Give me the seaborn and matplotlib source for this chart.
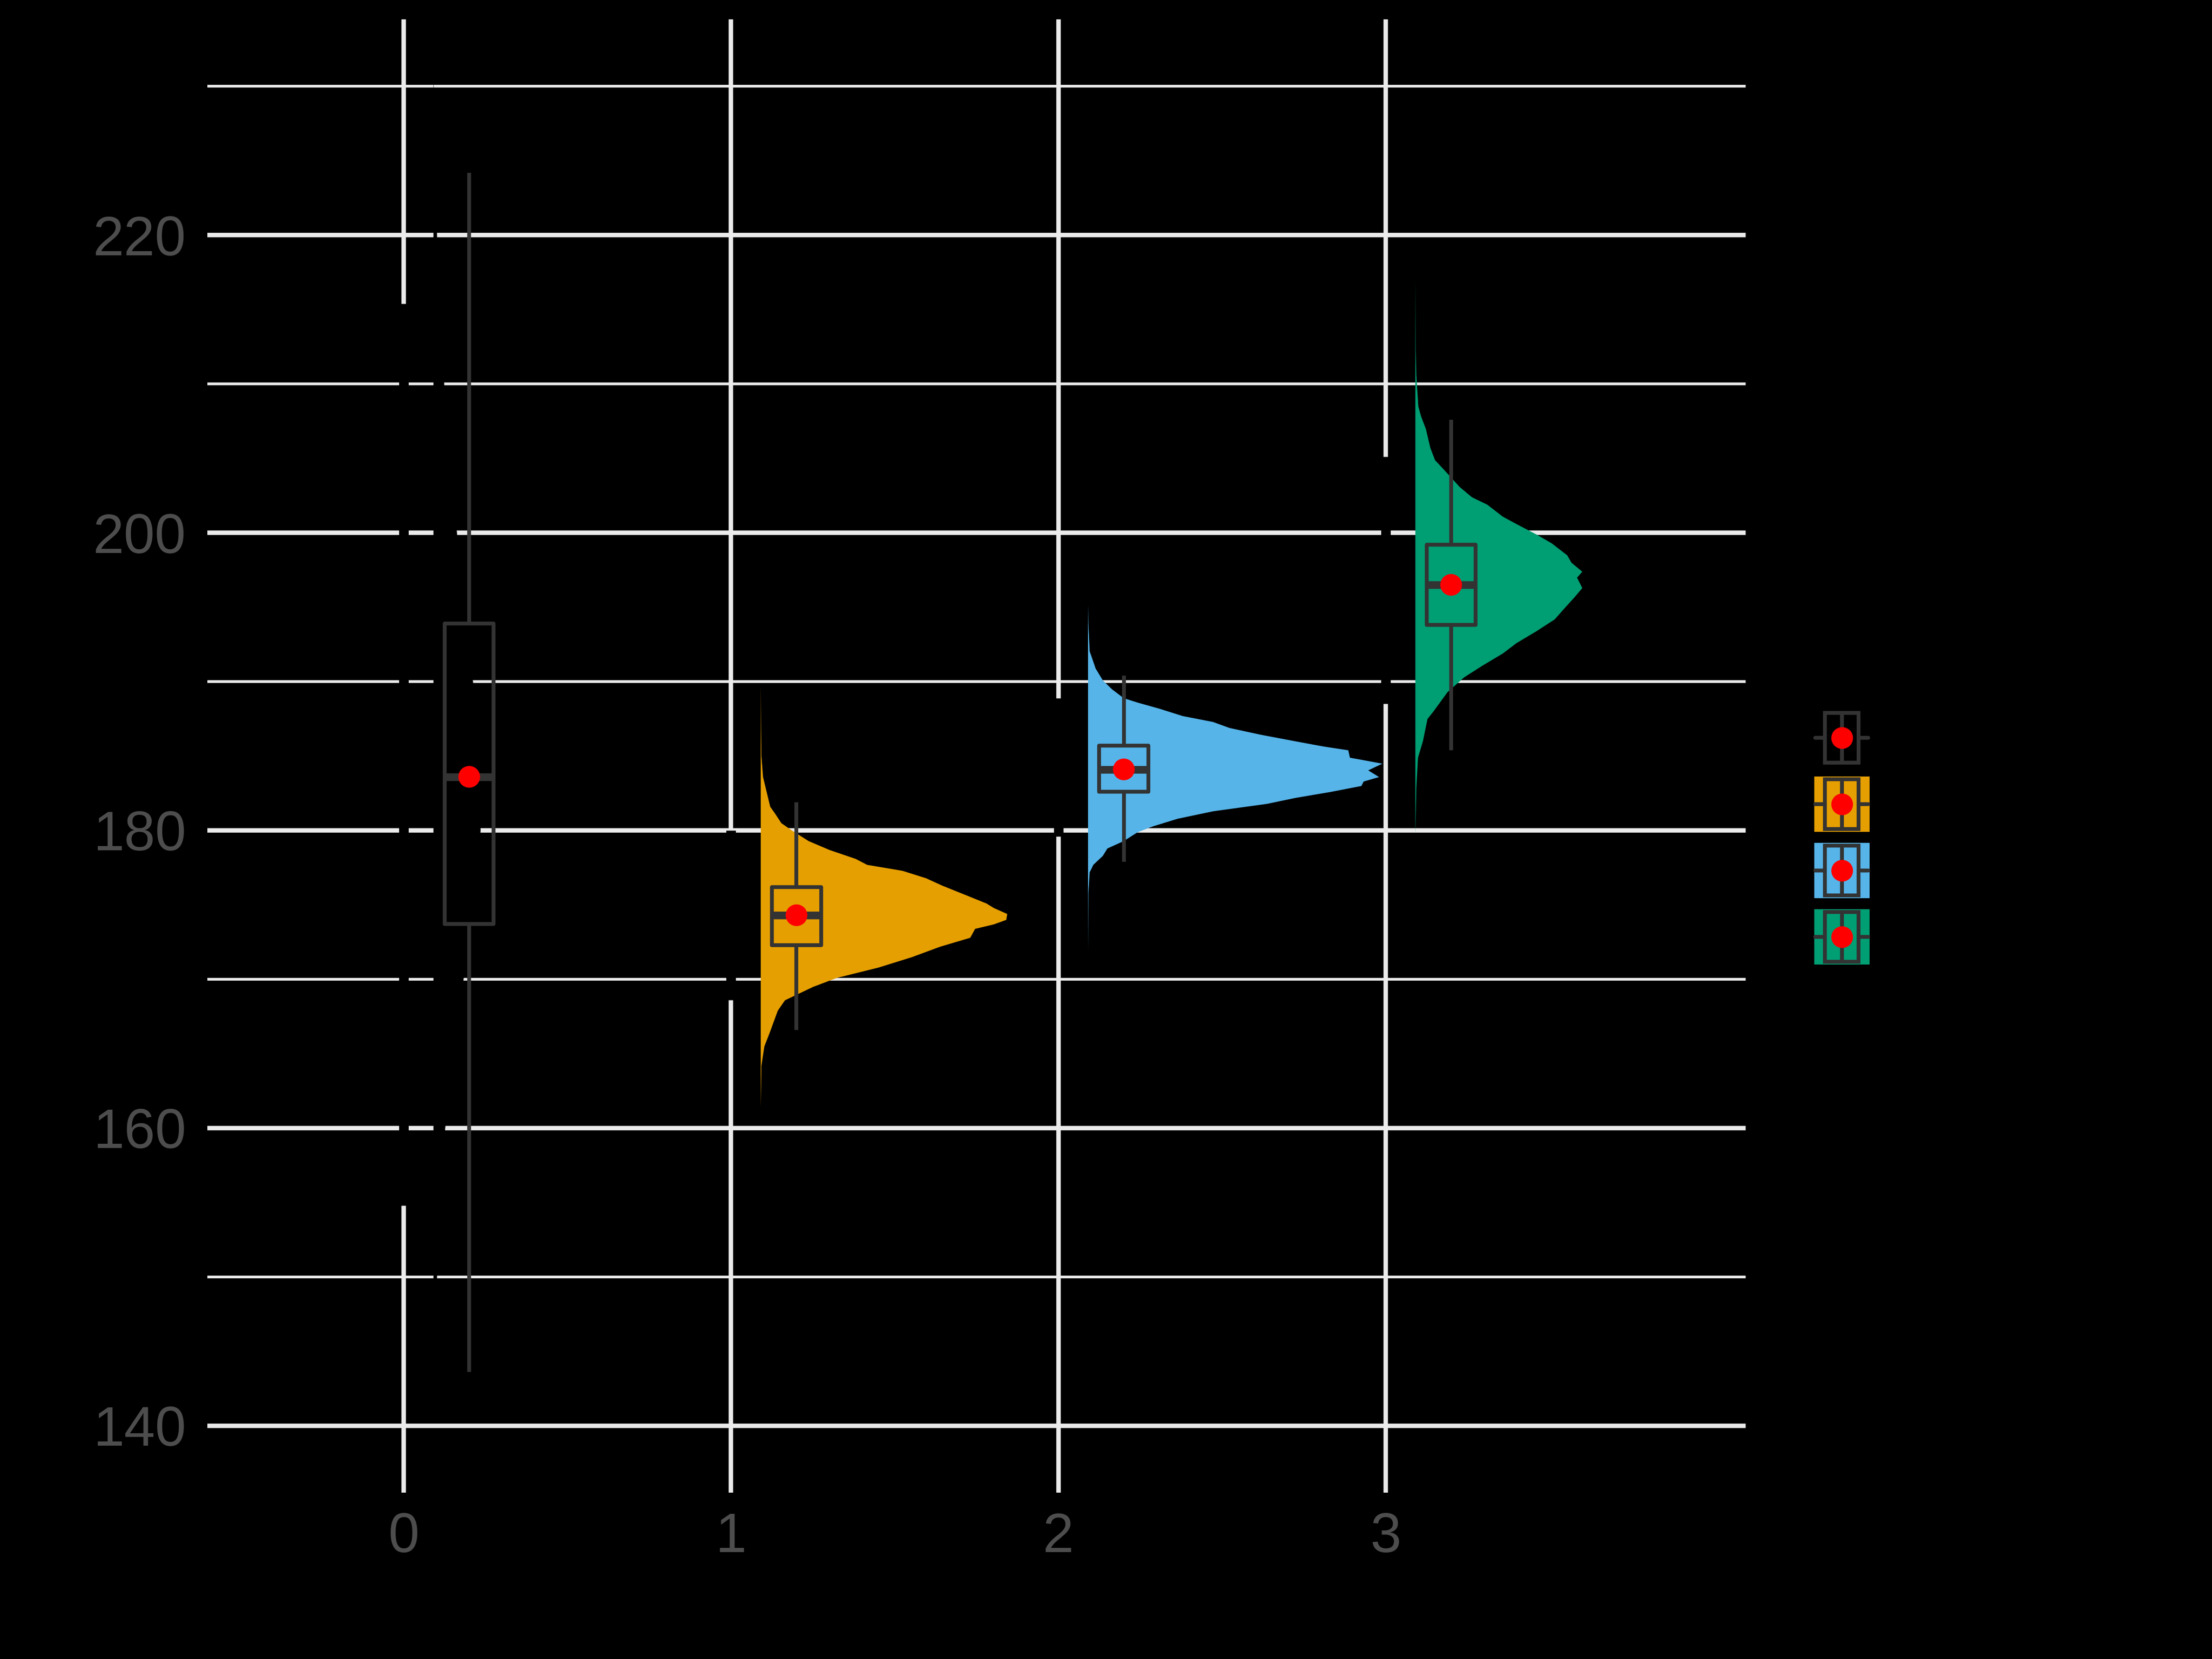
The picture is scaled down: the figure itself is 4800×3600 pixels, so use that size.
import numpy as np
import pandas as pd
import matplotlib
matplotlib.use("Agg")
import matplotlib.pyplot as plt
import seaborn as sns
from matplotlib.patches import Patch, Rectangle
from matplotlib.lines import Line2D
from matplotlib.legend_handler import HandlerBase

# groups and fills
groups = [0, 1, 2, 3]
fills = ["black", "#E69F00", "#56B4E9", "#009E73"]

# box statistics
box_lo = [143.6, 166.6, 177.9, 185.4]
box_q1 = [173.7, 172.3, 182.6, 193.8]
box_med = [183.6, 174.3, 184.1, 196.5]
box_q3 = [193.9, 176.2, 185.7, 199.2]
box_hi = [224.2, 181.9, 190.4, 207.6]
means = [183.6, 174.3, 184.1, 196.5]

# range covered by the (black) jittered points
pts_lo = [154.8, 168.6, 179.6, 188.5]
pts_hi = [215.4, 180.0, 188.9, 205.1]

# half violin outlines: y value and width
vio0_y = [142, 150, 155, 160, 165, 170, 175, 180, 185, 190, 195, 200, 205, 210, 215, 220, 225, 231]
vio0_w = [0, 0.011, 0.02, 0.036, 0.06, 0.092, 0.125, 0.144, 0.138, 0.121, 0.095, 0.072, 0.05, 0.033, 0.02, 0.011, 0.005, 0]

vio1_y = [161.4, 164.2, 165.5, 166.4, 167.9, 168.6, 169.5, 170.1, 170.8, 171.5, 172.2, 172.8, 173.4,
          173.7, 174.0, 174.4, 174.8, 175.1, 175.6, 176.3, 176.8, 177.3, 177.7, 178.1, 178.7, 179.3,
          180.0, 180.5, 181.2, 181.6, 183.6, 185.0, 186.8, 189.8]
vio1_w = [0, 0.002, 0.011, 0.027, 0.052, 0.074, 0.16, 0.232, 0.36, 0.462, 0.548, 0.64, 0.655,
          0.712, 0.75, 0.753, 0.712, 0.69, 0.634, 0.555, 0.505, 0.433, 0.325, 0.29, 0.21, 0.146,
          0.096, 0.063, 0.042, 0.029, 0.007, 0.002, 0.001, 0]

vio2_y = [171.9, 175.8, 177.2, 177.7, 178.3, 178.8, 179.3, 179.9, 180.3, 180.8, 181.3, 181.8, 182.2,
          182.6, 183.0, 183.3, 183.6, 184.05, 184.5, 184.7, 184.9, 185.4, 185.65, 186.0, 186.45,
          186.9, 187.3, 187.7, 188.2, 188.6, 188.9, 189.5, 190.1, 190.9, 192.05, 193.9, 195.2]
vio2_w = [0, 0.001, 0.005, 0.016, 0.045, 0.059, 0.109, 0.152, 0.2, 0.274, 0.382, 0.547, 0.634,
          0.741, 0.835, 0.842, 0.889, 0.856, 0.899, 0.85, 0.80, 0.795, 0.72, 0.634, 0.526,
          0.432, 0.382, 0.289, 0.217, 0.152, 0.109, 0.073, 0.045, 0.023, 0.005, 0.001, 0]

vio3_y = [179.7, 182.9, 184.9, 186.0, 187.5, 188.0, 189.3, 190.3, 191.1, 191.9, 192.6, 193.4, 194.2,
          194.9, 195.7, 196.3, 197.0, 197.4, 198.0, 198.5, 199.3, 199.9, 200.6, 201.1, 201.9,
          202.4, 203.1, 204.0, 204.9, 205.7, 207.0, 207.8, 208.5, 210.6, 212.4, 217.0]
vio3_w = [0, 0.003, 0.008, 0.023, 0.037, 0.055, 0.098, 0.149, 0.206, 0.267, 0.309, 0.37, 0.426,
          0.454, 0.487, 0.51, 0.494, 0.51, 0.477, 0.464, 0.417, 0.37, 0.309, 0.267, 0.22,
          0.173, 0.135, 0.098, 0.06, 0.046, 0.032, 0.018, 0.009, 0.003, 0.001, 0]

vio_y = [vio0_y, vio1_y, vio2_y, vio3_y]
vio_w = [vio0_w, vio1_w, vio2_w, vio3_w]

line_col = "#333333"
grid_col = "#EBEBEB"
text_col = "#4D4D4D"


class BoxKey(HandlerBase):
    """legend key: filled square with a sideways box and the mean dot"""
    def create_artists(self, legend, orig_handle, xdescent, ydescent,
                       width, height, fontsize, trans):
        x0, y0 = -xdescent, -ydescent
        fc = orig_handle.get_facecolor()
        bg = Rectangle((x0, y0), width, height, facecolor=fc, edgecolor="none", transform=trans)
        box = Rectangle((x0 + 0.196 * width, y0 + 0.05 * height), 0.608 * width, 0.9 * height,
                        facecolor="none", edgecolor=line_col, lw=2, transform=trans)
        med = Line2D([x0 + 0.5 * width] * 2, [y0 + 0.05 * height, y0 + 0.95 * height],
                     color=line_col, lw=2, transform=trans)
        wl = Line2D([x0 + 0.017 * width, x0 + 0.196 * width], [y0 + 0.5 * height] * 2,
                    color=line_col, lw=2, transform=trans)
        wr = Line2D([x0 + 0.804 * width, x0 + 0.978 * width], [y0 + 0.5 * height] * 2,
                    color=line_col, lw=2, transform=trans)
        dot = Line2D([x0 + 0.5 * width], [y0 + 0.5 * height], marker="o", ms=11.3,
                     color="red", mec="none", ls="none", transform=trans)
        return [bg, box, med, wl, wr, dot]


def main():
    sns.set_theme(style="dark", rc={"axes.facecolor": "black", "figure.facecolor": "black"})
    plt.rcParams["font.family"] = ["Liberation Sans", "DejaVu Sans"]

    fig = plt.figure(figsize=(16, 12), dpi=300)
    ax = fig.add_axes([0.09375, 0.10028, 0.78920 - 0.09375, 0.98833 - 0.10028])
    ax.set_facecolor("black")

    # black jittered points: only visible where they cut the grid
    ax.vlines(groups, pts_lo, pts_hi, color="black", lw=5, zorder=1.5)

    # half violins
    for g, y, w, c in zip(groups, vio_y, vio_w, fills):
        ax.fill_betweenx(y, g + 0.09, g + 0.09 + np.array(w), color=c, lw=0, zorder=2)

    # boxes
    pos = np.array(groups) + 0.2
    box_df = pd.DataFrame({
        "pos": np.repeat(pos, 5),
        "value": np.column_stack([box_lo, box_q1, box_med, box_q3, box_hi]).ravel(),
    })
    sns.boxplot(data=box_df, x="pos", y="value", native_scale=True, width=0.15,
                fill=False, color=line_col, linewidth=2, whis=(0, 100),
                showcaps=False, showfliers=False, medianprops={"linewidth": 4},
                ax=ax, zorder=3)

    # mean points
    sns.scatterplot(x=pos, y=means, color="red", s=128, edgecolor="none",
                    zorder=5, ax=ax, legend=False)

    ax.set_xlim(-0.6, 4.1)
    ax.set_ylim(135.5, 234.5)
    ax.set_xticks(groups)
    ax.set_yticks([140, 160, 180, 200, 220])
    ax.set_yticks([150, 170, 190, 210, 230], minor=True)
    ax.set_xlabel("")
    ax.set_ylabel("")
    ax.set_axisbelow(True)
    ax.grid(which="major", axis="both", color=grid_col, lw=2.3)
    ax.grid(which="minor", axis="y", color=grid_col, lw=1.4)
    ax.tick_params(which="both", length=0, labelsize=29, labelcolor=text_col)
    ax.tick_params(axis="x", pad=10)
    ax.tick_params(axis="y", pad=11)
    for s in ax.spines.values():
        s.set_visible(False)

    # legend keys ~28.9pt square; matplotlib removes a descent from handleheight
    handles = [Patch(facecolor=c) for c in fills]
    fig.legend(handles, ["", "", "", ""], handler_map={Patch: BoxKey()},
               loc="center", bbox_to_anchor=(0.8327, 0.4953), bbox_transform=fig.transFigure,
               fontsize=1, handlelength=28.8, handleheight=44.1, labelspacing=5.66,
               handletextpad=0, borderpad=0, borderaxespad=0, frameon=False)

    fig.savefig("out.png", dpi=300, facecolor="black")


if __name__ == "__main__":
    main()
